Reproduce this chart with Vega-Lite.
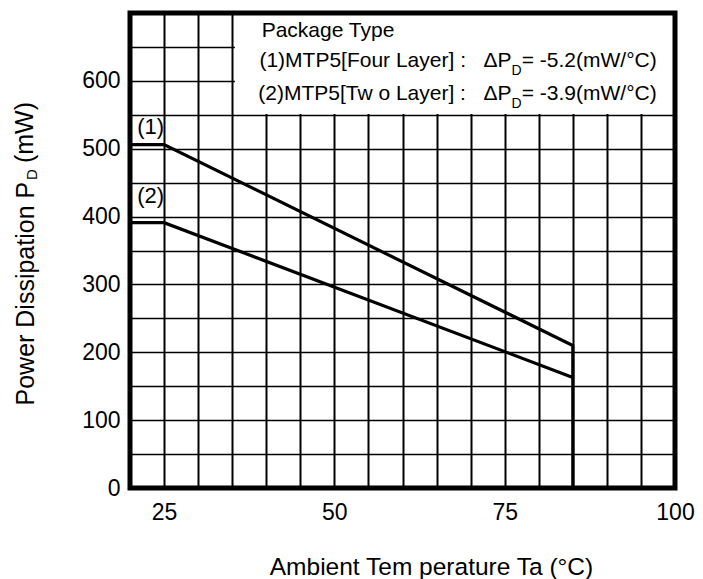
{
  "$schema": "https://vega.github.io/schema/vega-lite/v6.json",
  "width": 545,
  "height": 475,
  "autosize": "none",
  "padding": {"left": 130, "top": 13, "right": 28, "bottom": 91},
  "background": "white",
  "config": {"view": {"stroke": null}, "font": "Liberation Sans", "text": {"font": "Liberation Sans", "color": "black"}},
  "datasets": {
    "curves": [
      {"i": 1, "t": 20, "p": 506, "s": "1"},
      {"i": 2, "t": 25, "p": 506, "s": "1"},
      {"i": 3, "t": 85, "p": 210, "s": "1"},
      {"i": 4, "t": 85, "p": 0, "s": "1"},
      {"i": 1, "t": 20, "p": 391, "s": "2"},
      {"i": 2, "t": 25, "p": 391, "s": "2"},
      {"i": 3, "t": 85, "p": 163, "s": "2"}
    ],
    "box": [{"x1": 35.4, "x2": 100, "y1": 551, "y2": 700}],
    "frame": [{"x1": 20, "x2": 100, "y1": 0, "y2": 700}],
    "curveLabels": [
      {"t": 23.04, "p": 532, "label": "(1)"},
      {"t": 23.04, "p": 430, "label": "(2)"}
    ],
    "legendHead": [
      {"t": 39.33, "p": 665, "label": "Package Type"}
    ],
    "legendMain": [
      {"t": 76.0, "p": 620.6, "label": "(1)MTP5[Four Layer] :\u00a0\u00a0\u00a0ΔP"},
      {"t": 76.0, "p": 571.8, "label": "(2)MTP5[Tw o Layer] :\u00a0\u00a0\u00a0ΔP"}
    ],
    "legendSub": [
      {"t": 76.0, "p": 608.5, "label": "D"},
      {"t": 76.0, "p": 559.7, "label": "D"}
    ],
    "legendVal": [
      {"t": 77.5, "p": 620.6, "label": "= -5.2(mW/°C)"},
      {"t": 77.5, "p": 571.8, "label": "= -3.9(mW/°C)"}
    ],
    "ytitle": [
      {"t": 5.81, "p": 478.9, "label": "(mW)", "size": 25},
      {"t": 6.35, "p": 453.9, "label": "D", "size": 15}
    ]
  },
  "layer": [
    {
      "data": {"name": "box"},
      "mark": {"type": "rect", "fill": "white", "stroke": null},
      "encoding": {
        "x": {"field": "x1", "type": "quantitative", "scale": {"domain": [20, 100], "nice": false, "zero": false},
          "axis": {
            "values": [20, 25, 30, 35, 40, 45, 50, 55, 60, 65, 70, 75, 80, 85, 90, 95, 100],
            "tickCount": 100,
            "labelExpr": "datum.value % 25 === 0 && datum.value > 20 ? datum.label : ''",
            "labelOverlap": false, "labelFlush": false, "labelBound": false,
            "grid": true, "gridColor": "black", "gridWidth": 2, "gridOpacity": 1,
            "ticks": false, "domain": false,
            "labelFontSize": 23, "labelColor": "black", "labelPadding": 13,
            "title": "Ambient Tem perature Ta (°C)", "titleFontSize": 24.5, "titleFontWeight": "normal", "titleColor": "black",
            "titleX": 301, "titleY": 86, "titleBaseline": "alphabetic", "titleAlign": "center", "titleAnchor": null
          }},
        "x2": {"field": "x2"},
        "y": {"field": "y1", "type": "quantitative", "scale": {"domain": [0, 700], "nice": false, "zero": false},
          "axis": {
            "values": [0, 50, 100, 150, 200, 250, 300, 350, 400, 450, 500, 550, 600, 650, 700],
            "tickCount": 100,
            "labelExpr": "datum.value % 100 === 0 && datum.value < 700 ? datum.label : ''",
            "labelOverlap": false, "labelFlush": false, "labelBound": false,
            "grid": true, "gridColor": "black", "gridWidth": 1.6, "gridOpacity": 1,
            "ticks": false, "domain": false,
            "labelFontSize": 23, "labelColor": "black", "labelPadding": 10, "labelBaseline": "middle",
            "title": "Power Dissipation P", "titleFontSize": 25, "titleFontWeight": "normal", "titleColor": "black",
            "titleAngle": 270, "titleAlign": "left", "titleBaseline": "alphabetic", "titleX": -96.7, "titleY": 392, "titleAnchor": null
          }},
        "y2": {"field": "y2"}
      }
    },
    {
      "data": {"name": "curves"},
      "mark": {"type": "line", "color": "black", "strokeWidth": 3.2, "strokeJoin": "miter"},
      "encoding": {
        "x": {"field": "t", "type": "quantitative"},
        "y": {"field": "p", "type": "quantitative"},
        "detail": {"field": "s"},
        "order": {"field": "i"}
      }
    },
    {
      "data": {"name": "curveLabels"},
      "mark": {"type": "text", "fontSize": 22, "align": "center", "baseline": "middle"},
      "encoding": {
        "x": {"field": "t", "type": "quantitative"},
        "y": {"field": "p", "type": "quantitative"},
        "text": {"field": "label"}
      }
    },
    {
      "data": {"name": "legendHead"},
      "mark": {"type": "text", "fontSize": 21, "baseline": "alphabetic", "align": "left"},
      "encoding": {
        "x": {"field": "t", "type": "quantitative"},
        "y": {"field": "p", "type": "quantitative"},
        "text": {"field": "label"}
      }
    },
    {
      "data": {"name": "legendMain"},
      "mark": {"type": "text", "fontSize": 21, "baseline": "alphabetic", "align": "right"},
      "encoding": {
        "x": {"field": "t", "type": "quantitative"},
        "y": {"field": "p", "type": "quantitative"},
        "text": {"field": "label"}
      }
    },
    {
      "data": {"name": "legendSub"},
      "mark": {"type": "text", "fontSize": 14, "baseline": "alphabetic", "align": "left"},
      "encoding": {
        "x": {"field": "t", "type": "quantitative"},
        "y": {"field": "p", "type": "quantitative"},
        "text": {"field": "label"}
      }
    },
    {
      "data": {"name": "legendVal"},
      "mark": {"type": "text", "fontSize": 21, "baseline": "alphabetic", "align": "left"},
      "encoding": {
        "x": {"field": "t", "type": "quantitative"},
        "y": {"field": "p", "type": "quantitative"},
        "text": {"field": "label"}
      }
    },
    {
      "data": {"name": "ytitle"},
      "mark": {"type": "text", "angle": 270, "baseline": "alphabetic", "align": "left"},
      "encoding": {
        "x": {"field": "t", "type": "quantitative"},
        "y": {"field": "p", "type": "quantitative"},
        "text": {"field": "label"},
        "size": {"field": "size", "type": "quantitative", "scale": null}
      }
    },
    {
      "data": {"name": "frame"},
      "mark": {"type": "rect", "fillOpacity": 0, "stroke": "black", "strokeWidth": 5},
      "encoding": {
        "x": {"field": "x1", "type": "quantitative"},
        "x2": {"field": "x2"},
        "y": {"field": "y1", "type": "quantitative"},
        "y2": {"field": "y2"}
      }
    }
  ]
}
